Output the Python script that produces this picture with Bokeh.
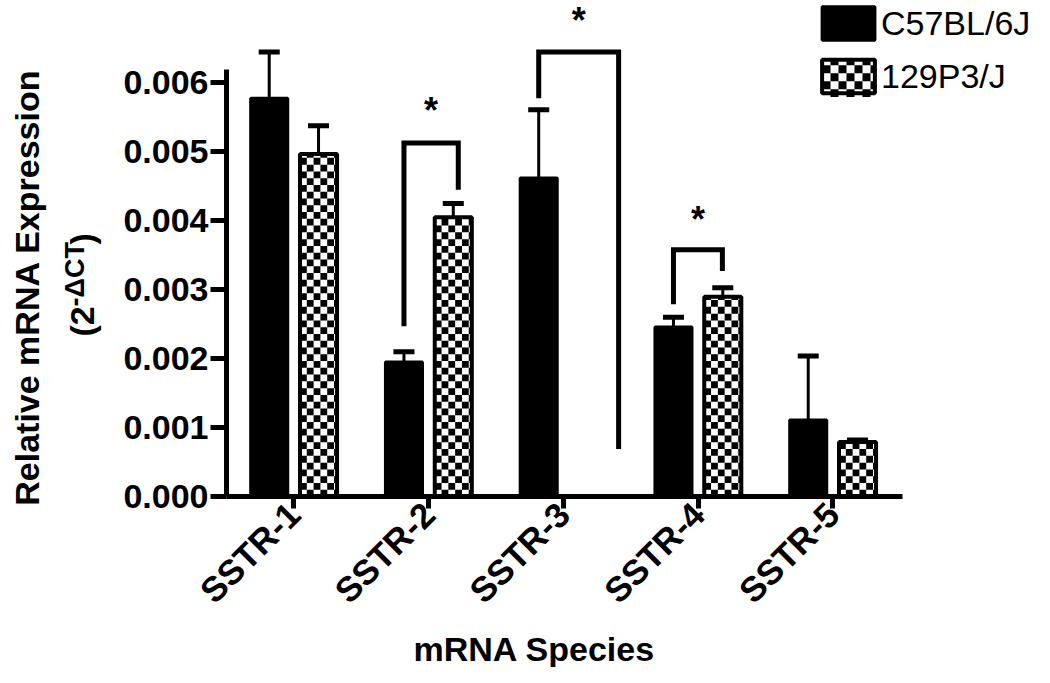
import math
from bokeh.plotting import figure
from bokeh.layouts import row
from bokeh.models import (FixedTicker, PrintfTickFormatter, Range1d, ColumnDataSource, Title)
from bokeh.core.properties import value
from bokeh.embed import file_html
from bokeh.resources import INLINE

# ---------------- data ----------------
categories = ["SSTR-1", "SSTR-2", "SSTR-3", "SSTR-4", "SSTR-5"]
c57_mean = [0.00578, 0.00195, 0.00462, 0.00246, 0.00111]
c57_err = [0.00067, 0.00015, 0.00099, 0.00014, 0.00093]
p129_mean = [0.00497, 0.00405, 0.0, 0.00290, 0.00079]
p129_err = [0.00041, 0.00020, 0.0, 0.00013, 0.00003]
y_ticks = [0.000, 0.001, 0.002, 0.003, 0.004, 0.005, 0.006]
series_names = ["C57BL/6J", "129P3/J"]

# significance brackets (category, bracket top, left leg end, right leg end, star level)
sig_cat = [2, 3, 4]
sig_top = [0.00513, 0.00645, 0.00358]
sig_left_end = [0.00247, 0.00578, 0.00279]
sig_right_end = [0.00445, 0.00069, 0.00327]
sig_star = [0.00568, 0.00698, 0.00409]
sig_label = ["*", "*", "*"]

# ---------------- layout helpers ----------------
FONT = "Liberation Sans"
TOTAL_W, TOTAL_H = 1034, 667
LEFT_W = 112                 # side strip holding the y-axis title
FRAME_LEFT, FRAME_BOTTOM = 226, 498   # picture px
PX_X = 134.75                # px per category
PX_Y = 69200.0               # px per unit of y
X0 = 0.5


def px2x(px):
    return X0 + (px - FRAME_LEFT) / PX_X


def py2y(py):
    return (FRAME_BOTTOM - py) / PX_Y


main_w = TOTAL_W - LEFT_W
left_b = FRAME_LEFT - LEFT_W
bottom_b = TOTAL_H - FRAME_BOTTOM
frame_w = main_w - left_b

p = figure(width=main_w, height=TOTAL_H, output_backend="svg", toolbar_location=None,
           x_range=Range1d(X0, X0 + frame_w / PX_X),
           y_range=Range1d(0, FRAME_BOTTOM / PX_Y),
           min_border_left=left_b, min_border_right=0,
           min_border_top=0, min_border_bottom=bottom_b)
p.frame_align = False
p.outline_line_color = None
p.xgrid.visible = False
p.ygrid.visible = False

OFF = 0.183
BW = 0.275
xs_c57 = [i + 1 - OFF for i in range(len(categories))]
xs_129 = [i + 1 + OFF for i in range(len(categories))]

# ---- checker texture cells (drawn under the transparent 129P3/J bars) ----
CELL = 6.8


def checker_cells(x_left, x_right, y_bottom, y_top, cx, cy):
    L, R, B, T = [], [], [], []
    r = 0
    while y_bottom + r * cy < y_top - 1e-12:
        c = 0
        while x_left + c * cx < x_right - 1e-12:
            if (r + c) % 2 == 1:
                L.append(x_left + c * cx)
                R.append(min(x_left + (c + 1) * cx, x_right))
                B.append(y_bottom + r * cy)
                T.append(min(y_bottom + (r + 1) * cy, y_top))
            c += 1
        r += 1
    return L, R, B, T


cl, cr, cb, ct = [], [], [], []
for i in range(len(categories)):
    if p129_mean[i] > 0:
        a = checker_cells(xs_129[i] - BW / 2, xs_129[i] + BW / 2, 0, p129_mean[i],
                          CELL / PX_X, CELL / PX_Y)
        cl += a[0]; cr += a[1]; cb += a[2]; ct += a[3]
# legend swatch area for 129P3/J
a = checker_cells(px2x(822), px2x(875), py2y(97), py2y(61), 8 / PX_X, 8 / PX_Y)
cl += a[0]; cr += a[1]; cb += a[2]; ct += a[3]
p.quad(left=cl, right=cr, bottom=cb, top=ct, fill_color="black", line_color=None)

# error bars (upper only)
CAP = 0.078
for xs, m, e in ((xs_c57, c57_mean, c57_err), (xs_129, p129_mean, p129_err)):
    sel = [i for i in range(len(xs)) if m[i] > 0]
    src = ColumnDataSource(dict(
        x=[xs[i] for i in sel], lo=[m[i] for i in sel], hi=[m[i] + e[i] for i in sel],
        xl=[xs[i] - CAP for i in sel], xr=[xs[i] + CAP for i in sel]))
    p.segment(x0="x", y0="lo", x1="x", y1="hi", source=src, line_color="black", line_width=3)
    p.segment(x0="xl", y0="hi", x1="xr", y1="hi", source=src, line_color="black", line_width=5)

sel129 = [i for i in range(len(categories)) if p129_mean[i] > 0]
p.vbar(x=xs_c57, top=c57_mean, bottom=0, width=BW, fill_color="black",
       line_color="black", line_width=3, legend_label=series_names[0])
p.vbar(x=[xs_129[i] for i in sel129], top=[p129_mean[i] for i in sel129], bottom=0,
       width=BW, fill_color=None, line_color="black", line_width=4,
       legend_label=series_names[1])

# significance brackets
right_off = [0.22, 0.41, 0.18]
bx, by = [], []
for k, c in enumerate(sig_cat):
    l = c - OFF
    r = c + right_off[k]
    bx.append([l, l, r, r])
    by.append([sig_left_end[k], sig_top[k], sig_top[k], sig_right_end[k]])
p.multi_line(xs=bx, ys=by, line_color="black", line_width=5, line_join="miter")
star_x = [(b[0] + b[3]) / 2 for b in bx]
p.text(x=star_x, y=sig_star, text=sig_label, text_font=value(FONT),
       text_font_style="bold", text_font_size="36px", text_align="center",
       text_baseline="middle", y_offset=5, text_color="black")

# axes
p.xaxis.ticker = FixedTicker(ticks=[1, 2, 3, 4, 5])
p.xaxis.major_label_overrides = {i + 1: c for i, c in enumerate(categories)}
p.xaxis.major_label_orientation = math.pi / 4
p.xaxis.bounds = (X0, px2x(902))
p.yaxis.ticker = FixedTicker(ticks=y_ticks)
p.yaxis.formatter = PrintfTickFormatter(format="%.3f")
p.yaxis.bounds = (0, 0.0062)
for ax in (p.xaxis[0], p.yaxis[0]):
    ax.axis_line_width = 5
    ax.major_tick_line_width = 5
    ax.major_tick_in = 0
    ax.minor_tick_line_color = None
    ax.major_label_text_font = FONT
    ax.major_label_text_font_style = "bold"
    ax.major_label_text_color = "black"
p.yaxis.major_label_text_font_size = "34px"
p.xaxis.major_label_text_font_size = "35px"
p.xaxis.major_tick_out = 12
p.yaxis.major_tick_out = 16
p.yaxis.major_label_standoff = 2
p.xaxis.major_label_standoff = 0

# x-axis title
p.add_layout(Title(text="mRNA Species", align="left", offset=187, standoff=0,
                   text_font=FONT, text_font_style="bold", text_font_size="34px",
                   text_color="black"), "below")

# legend
lg = p.legend[0]
lg.location = (589, 399)
lg.padding = 0
lg.margin = 0
lg.border_line_color = None
lg.background_fill_alpha = 0
lg.glyph_width = 66
lg.glyph_height = 42
lg.label_height = 42
lg.spacing = 11
lg.label_standoff = 0
lg.label_text_font = FONT
lg.label_text_font_size = "34px"
lg.label_text_baseline = "middle"
lg.label_text_color = "black"

# ---------------- y-axis title strip ----------------
t = figure(width=LEFT_W, height=TOTAL_H, output_backend="svg", toolbar_location=None,
           x_range=Range1d(0, LEFT_W), y_range=Range1d(0, TOTAL_H),
           x_axis_location=None, y_axis_location=None,
           min_border_left=0, min_border_right=0, min_border_top=0, min_border_bottom=0)
t.frame_align = False
t.outline_line_color = None
t.xgrid.visible = False
t.ygrid.visible = False


def ty(py):
    return TOTAL_H - py


def ytext(x, py, s, size, align="left"):
    t.text(x=[x], y=[ty(py)], text=[s], angle=math.pi / 2, text_font=value(FONT),
           text_font_style="bold", text_font_size=size, text_align=align,
           text_baseline="alphabetic", text_color="black")


ytext(26, 287, "Relative mRNA Expression", "34px", align="center")
ytext(81, 336, "(2", "34px")
ytext(74, 306, "-\u0394CT", "27px")
ytext(81, 244, ")", "34px")

layout = row(t, p)
open("out.html", "w").write(file_html(layout, INLINE))
